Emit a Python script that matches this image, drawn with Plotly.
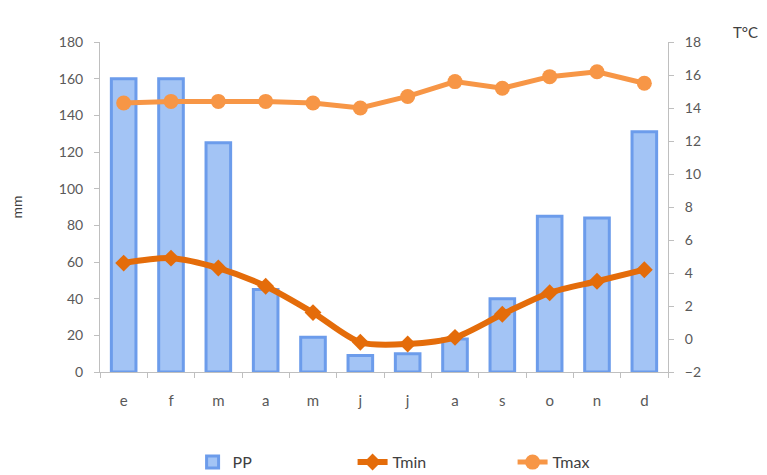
import plotly.graph_objects as go

# Monthly climate data
months = ["e", "f", "m", "a", "m", "j", "j", "a", "s", "o", "n", "d"]
pp_mm = [160, 160, 125, 45, 19, 9, 10, 18, 40, 85, 84, 131]
tmin_c = [4.6, 4.9, 4.3, 3.2, 1.6, -0.2, -0.3, 0.1, 1.5, 2.8, 3.5, 4.2]
tmax_c = [14.3, 14.4, 14.4, 14.4, 14.3, 14.0, 14.7, 15.6, 15.2, 15.9, 16.2, 15.5]
left_ticks = [0, 20, 40, 60, 80, 100, 120, 140, 160, 180]
right_ticks = [-2, 0, 2, 4, 6, 8, 10, 12, 14, 16, 18]

x = list(range(len(months)))

FONT = "Lato, 'Open Sans', sans-serif"
TICK_COLOR = "#595959"
AXIS_COLOR = "#BFBFBF"

fig = go.Figure()

fig.add_trace(go.Bar(
    x=x, y=pp_mm, name="PP", width=0.52,
    marker=dict(color="#A3C4F5", line=dict(color="#6C9CEB", width=3)),
    yaxis="y",
))

fig.add_trace(go.Scatter(
    x=x, y=tmin_c, name="Tmin", mode="lines+markers",
    line=dict(color="#E46C0A", width=6, shape="spline", smoothing=0.8),
    marker=dict(symbol="diamond", size=13, color="#E46C0A"),
    yaxis="y2",
))

fig.add_trace(go.Scatter(
    x=x, y=tmax_c, name="Tmax", mode="lines+markers",
    line=dict(color="#F79646", width=5),
    marker=dict(symbol="circle", size=15, color="#F79646"),
    yaxis="y2",
))

fig.update_layout(
    width=767, height=475,
    margin=dict(l=100, r=99, t=42, b=103, autoexpand=False),
    paper_bgcolor="white", plot_bgcolor="white",
    font=dict(family=FONT, size=14, color=TICK_COLOR),
    bargap=0.48,
    showlegend=True,
    legend=dict(
        orientation="h", x=0.163, xanchor="left",
        yref="container", y=0.027, yanchor="middle",
        font=dict(family=FONT, size=16, color="#404040"),
        entrywidth=115, entrywidthmode="pixels",
        traceorder="normal",
    ),
    xaxis=dict(
        range=[-0.5, 11.5],
        tickmode="array", tickvals=x, ticktext=months,
        ticks="", showline=True, linecolor=AXIS_COLOR, linewidth=1,
        showgrid=False, zeroline=False,
        ticklabelstandoff=15,
        tickfont=dict(size=15, color=TICK_COLOR),
        minor=dict(tick0=-0.5, dtick=1, ticks="outside", ticklen=5,
                   tickcolor=AXIS_COLOR, showgrid=False),
    ),
    yaxis=dict(
        range=[0, 180], tickmode="array", tickvals=left_ticks,
        ticks="outside", ticklen=5, tickcolor=AXIS_COLOR,
        showline=True, linecolor=AXIS_COLOR, linewidth=1,
        showgrid=False, zeroline=False,
        ticklabelstandoff=8,
        title=dict(text="mm", font=dict(size=14, color="#404040"), standoff=32),
    ),
    yaxis2=dict(
        range=[-2, 18], tickmode="array", tickvals=right_ticks,
        overlaying="y", side="right",
        ticks="outside", ticklen=5, tickcolor=AXIS_COLOR,
        showline=True, linecolor=AXIS_COLOR, linewidth=1,
        showgrid=False, zeroline=False,
        ticklabelstandoff=8,
    ),
    annotations=[dict(
        text="T°C", xref="paper", yref="paper", x=1.137, y=1.03,
        xanchor="center", yanchor="middle", showarrow=False,
        font=dict(family=FONT, size=15, color="#404040"),
    )],
)

fig.write_html("out.html")
